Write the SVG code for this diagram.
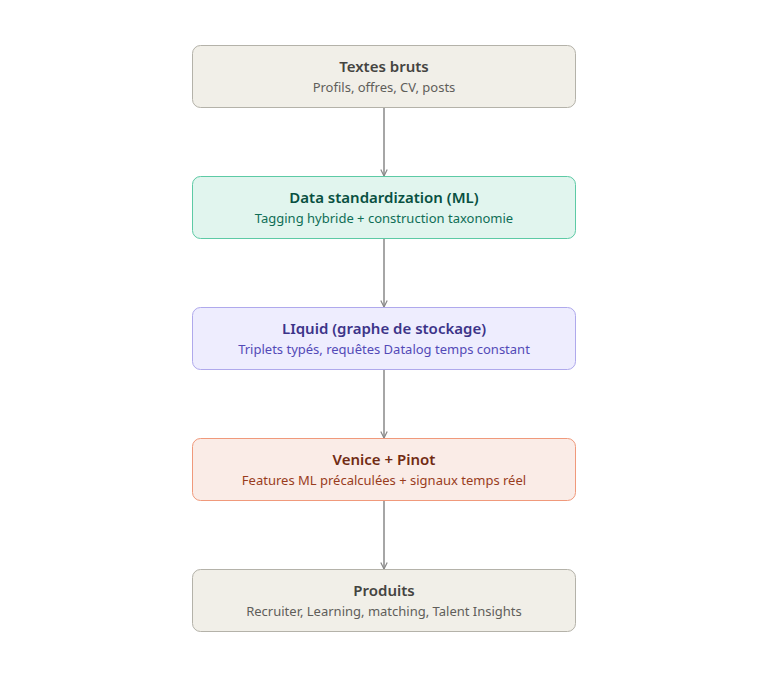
<svg xmlns="http://www.w3.org/2000/svg" width="768" height="678" viewBox="0 0 768 678">
<style>
.t{font-family:"Noto Sans","Open Sans",sans-serif;font-size:15px;font-weight:600;text-anchor:middle}
.s{font-family:"Noto Sans","Open Sans",sans-serif;font-size:13px;text-anchor:middle}
.c{stroke:#888;stroke-width:1.5;fill:none;marker-end:url(#a)}
</style>
<defs><marker id="a" viewBox="0 0 10 10" refX="9" refY="5" markerWidth="8" markerHeight="8" orient="auto" markerUnits="userSpaceOnUse"><path d="M1,1 L9,5 L1,9" fill="none" stroke="#888" stroke-width="1.5"/></marker></defs>
<rect width="768" height="678" fill="#fff"/>
<g id="connectors">
<line class="c" x1="384" y1="107" x2="384" y2="176"/>
<line class="c" x1="384" y1="238" x2="384" y2="307"/>
<line class="c" x1="384" y1="369" x2="384" y2="438"/>
<line class="c" x1="384" y1="500" x2="384" y2="569"/>
</g>
<g id="n1"><rect x="192.5" y="45.5" width="383" height="62" rx="8" fill="#f1efe8" stroke="#b4b2a9"/><text class="t" x="384" y="72" fill="#444441">Textes bruts</text><text class="s" x="384" y="92" fill="#5f5e5a">Profils, offres, CV, posts</text></g>
<g id="n2"><rect x="192.5" y="176.5" width="383" height="62" rx="8" fill="#e1f5ee" stroke="#5dcaa5"/><text class="t" x="384" y="203" fill="#085041">Data standardization (ML)</text><text class="s" x="384" y="223" fill="#0f6e56">Tagging hybride + construction taxonomie</text></g>
<g id="n3"><rect x="192.5" y="307.5" width="383" height="62" rx="8" fill="#eeedfe" stroke="#afa9ec"/><text class="t" x="384" y="334" fill="#3c3489">LIquid (graphe de stockage)</text><text class="s" x="384" y="354" fill="#534ab7">Triplets typés, requêtes Datalog temps constant</text></g>
<g id="n4"><rect x="192.5" y="438.5" width="383" height="62" rx="8" fill="#faece7" stroke="#f0997b"/><text class="t" x="384" y="465" fill="#712b13">Venice + Pinot</text><text class="s" x="384" y="485" fill="#993c1d">Features ML précalculées + signaux temps réel</text></g>
<g id="n5"><rect x="192.5" y="569.5" width="383" height="62" rx="8" fill="#f1efe8" stroke="#b4b2a9"/><text class="t" x="384" y="596" fill="#444441">Produits</text><text class="s" x="384" y="616" fill="#5f5e5a">Recruiter, Learning, matching, Talent Insights</text></g>
</svg>
